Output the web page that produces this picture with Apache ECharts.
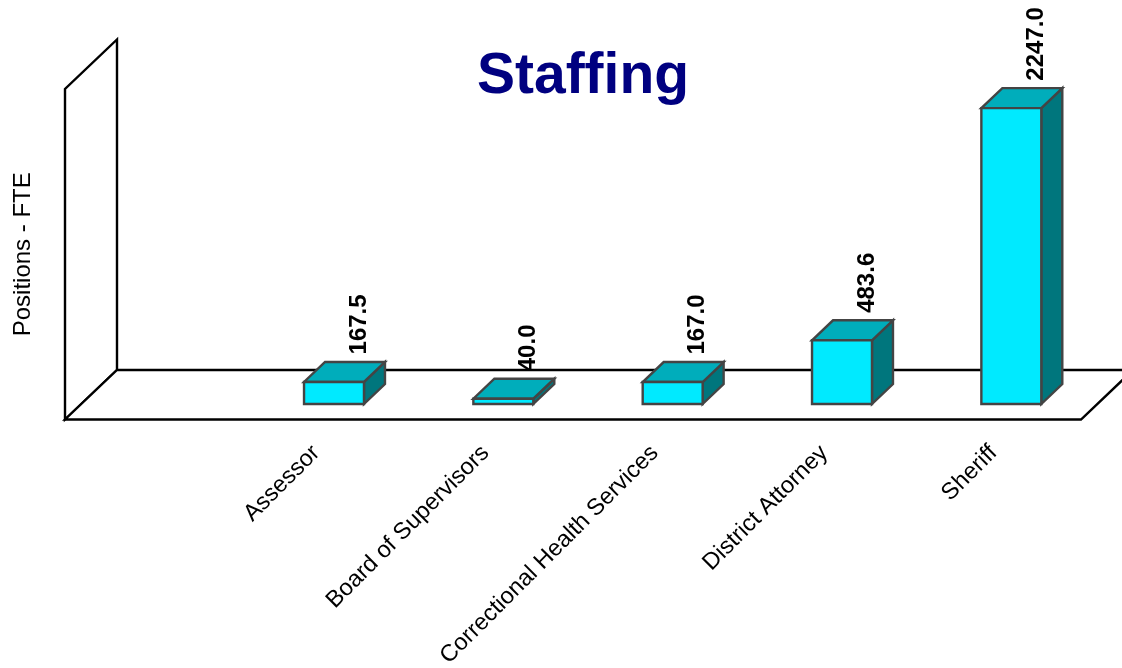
<!DOCTYPE html>
<html>
<head>
<meta charset="utf-8">
<style>html,body{margin:0;padding:0;background:#fff}#c{width:1122px;height:668px}</style>
<script src="https://cdn.jsdelivr.net/npm/echarts@6/dist/echarts.min.js"></script>
</head>
<body>
<div id="c"></div>
<script>
const categories = ['Assessor', 'Board of Supervisors', 'Correctional Health Services', 'District Attorney', 'Sheriff'];
const positions = [167.5, 40.0, 167.0, 483.6, 2247.0];
const titleText = 'Staffing';
const yAxisName = 'Positions - FTE';
const FONT = '"Liberation Sans", Arial, sans-serif';

const chart = echarts.init(document.getElementById('c'), null, {renderer: 'canvas'});

// projection parameters of the fake 3D box
const wall = {dx: 52, dy: -49.5};
const barInset = {dx: 15, dy: -15.5};
const barDepth = {dx: 21, dy: -20};
const barWidthRatio = 0.354;

function poly(points, fill, stroke, lw) {
  return {type: 'polygon', shape: {points}, style: {fill, stroke, lineWidth: lw, lineJoin: 'miter'}};
}

function renderFrame(params, api) {
  const g = params.coordSys;
  const l = g.x, r = g.x + g.width, t = g.y, b = g.y + g.height;
  const d = wall;
  return {type: 'group', children: [
    poly([[l, b], [l, t], [l + d.dx, t + d.dy], [l + d.dx, b + d.dy]], '#fff', '#000', 2.4),
    poly([[l, b], [r, b], [r + d.dx, b + d.dy], [l + d.dx, b + d.dy]], '#fff', '#000', 2.4)
  ]};
}

function renderBar(params, api) {
  const base = api.coord([api.value(0), 0]);
  const top = api.coord([api.value(0), api.value(1)]);
  const w = api.size([1, 0])[0] * barWidthRatio;
  const x0 = base[0] + barInset.dx - w / 2, x1 = x0 + w;
  const yb = base[1] + barInset.dy, yt = top[1] + barInset.dy;
  const dx = barDepth.dx, dy = barDepth.dy;
  const S = '#444444';
  return {type: 'group', children: [
    poly([[x1, yb], [x1, yt], [x1 + dx, yt + dy], [x1 + dx, yb + dy]], '#00767d', S, 2.4),
    poly([[x0, yt], [x1, yt], [x1 + dx, yt + dy], [x0 + dx, yt + dy]], '#00adbb', S, 2.4),
    poly([[x0, yb], [x1, yb], [x1, yt], [x0, yt]], '#00eaff', S, 2.4),
    {type: 'text', x: x0 + w / 2 + 25, y: yt + dy - 7.5, rotation: Math.PI / 2,
     style: {text: api.value(1).toFixed(1), font: 'bold 24px ' + FONT, fill: '#000',
             align: 'left', verticalAlign: 'middle'}}
  ]};
}

chart.setOption({
  animation: false,
  backgroundColor: '#fff',
  title: {text: titleText, left: 578, top: 44, textAlign: 'center',
          textStyle: {fontFamily: FONT, fontWeight: 'bold', fontSize: 57, color: '#000080'}},
  grid: {left: 65, top: 89, width: 1016, height: 330.5, outerBoundsMode: 'none'},
  xAxis: {type: 'category', data: [''].concat(categories),
          axisLine: {show: false}, axisTick: {show: false}, splitLine: {show: false},
          axisLabel: {interval: 0, rotate: 45, margin: 27, padding: [0, 4, 0, 0], fontFamily: FONT, fontSize: 23.5, color: '#000', hideOverlap: false}},
  yAxis: {type: 'value', min: 0, max: 2510, name: yAxisName, nameLocation: 'middle', nameGap: 30,
          nameTextStyle: {fontFamily: FONT, fontSize: 24, color: '#000'},
          axisLine: {show: false}, axisTick: {show: false}, axisLabel: {show: false}, splitLine: {show: false}},
  series: [
    {type: 'custom', name: 'frame', silent: true, clip: false, z: 1, renderItem: renderFrame, data: [[0, 0]]},
    {type: 'custom', name: 'Positions', clip: false, z: 2, renderItem: renderBar,
     encode: {x: 0, y: 1},
     data: positions.map((v, i) => [i + 1, v])}
  ]
});
</script>
</body>
</html>
